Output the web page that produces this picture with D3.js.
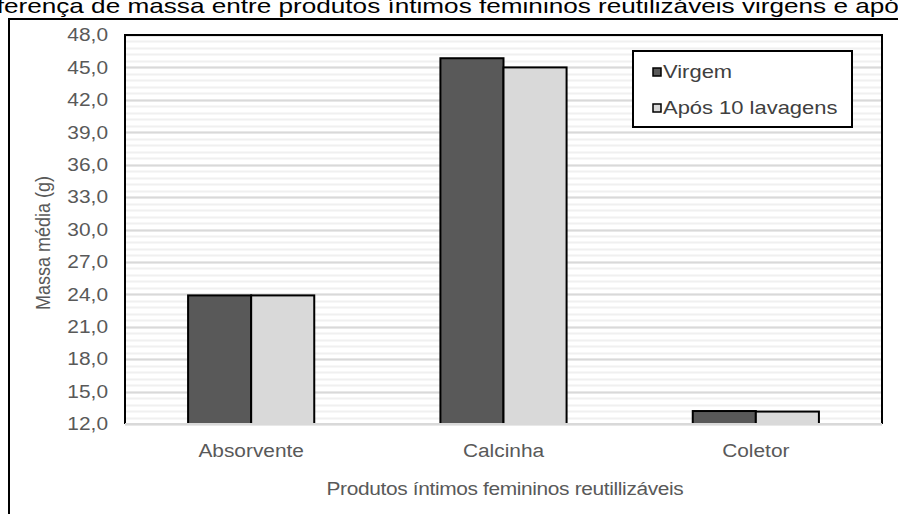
<!DOCTYPE html>
<html>
<head>
<meta charset="utf-8">
<script src="https://cdn.jsdelivr.net/npm/d3@7"></script>
<style>
  body { margin: 0; background: #fff; }
  svg { display: block; font-family: 'Liberation Sans', Arial, sans-serif; }
</style>
</head>
<body>
<svg width="898" height="514"></svg>
<script>
var svg = d3.select('svg')

// data
var categories = ['Absorvente', 'Calcinha', 'Coletor']
var seriesNames = ['Virgem', 'Após 10 lavagens']
var virgem = [23.9, 45.85, 13.2]
var aposLavagens = [23.9, 45.0, 13.15]
var yTicks = [12, 15, 18, 21, 24, 27, 30, 33, 36, 39, 42, 45, 48]

var colors = ['#595959', '#d9d9d9']
var stretch = 1.16 // the original picture is a bit wider than tall

var plot = { left: 125, top: 35, right: 882, bottom: 424 }

// text placed at x,y and stretched sideways
function wideText (sel, x, y, k) {
  return sel.append('g')
      .attr('transform', 'translate(' + x + ',' + y + ') scale(' + (k || stretch) + ',1)')
    .append('text')
}

// outer frame (extends past the window like the original)
svg.append('rect')
  .attr('x', 9).attr('y', 19)
  .attr('width', 1000).attr('height', 600)
  .attr('fill', 'none')
  .attr('stroke', '#000')
  .attr('stroke-width', 2)

wideText(svg, -28, 13, 1.245)
  .attr('font-size', 21)
  .attr('fill', '#000')
  .text('Diferença de massa entre produtos íntimos femininos reutilizáveis virgens e após 10 lavagens')

var y = d3.scaleLinear().domain([12, 48]).range([plot.bottom, plot.top])
var x0 = d3.scaleBand().domain(categories).range([plot.left, plot.right]).paddingInner(0.5).paddingOuter(0.25)
var x1 = d3.scaleBand().domain(seriesNames).range([0, x0.bandwidth()])

// minor grid
var minor = d3.range(12, 48.001, 0.6)
svg.append('g').selectAll('line')
  .data(minor)
  .enter().append('line')
    .attr('x1', plot.left).attr('x2', plot.right)
    .attr('y1', d => Math.round(y(d)) + 0.5)
    .attr('y2', d => Math.round(y(d)) + 0.5)
    .attr('stroke', '#f0f0f0')
    .attr('stroke-width', 2)

// major grid
svg.append('g').selectAll('line')
  .data(yTicks)
  .enter().append('line')
    .attr('x1', plot.left).attr('x2', plot.right)
    .attr('y1', d => Math.round(y(d)) + 0.5)
    .attr('y2', d => Math.round(y(d)) + 0.5)
    .attr('stroke', '#d9d9d9')
    .attr('stroke-width', 2)

// plot border (left, top, right black)
svg.append('path')
  .attr('d', 'M' + plot.left + ',' + plot.bottom + 'V' + plot.top + 'H' + plot.right + 'V' + plot.bottom)
  .attr('fill', 'none')
  .attr('stroke', '#000')
  .attr('stroke-width', 2)

// bars
var rows = categories.map((c, i) => ({ cat: c, vals: [virgem[i], aposLavagens[i]] }))
var groups = svg.append('g').selectAll('g')
  .data(rows)
  .enter().append('g')
    .attr('transform', d => 'translate(' + x0(d.cat) + ',0)')

groups.selectAll('rect')
  .data(d => d.vals.map((v, j) => ({ name: seriesNames[j], v: v, j: j })))
  .enter().append('rect')
    .attr('x', d => x1(d.name))
    .attr('y', d => y(d.v))
    .attr('width', x1.bandwidth())
    .attr('height', d => plot.bottom - y(d.v))
    .attr('fill', d => colors[d.j])
    .attr('stroke', '#000')
    .attr('stroke-width', 2)

// x axis line
svg.append('line')
  .attr('x1', plot.left).attr('x2', plot.right)
  .attr('y1', plot.bottom).attr('y2', plot.bottom)
  .attr('stroke', '#d9d9d9')
  .attr('stroke-width', 2)

// y tick labels
yTicks.forEach(function (d) {
  wideText(svg, 108, y(d))
    .attr('dy', '0.35em')
    .attr('text-anchor', 'end')
    .attr('font-size', 18)
    .attr('fill', '#595959')
    .text(d3.format('.1f')(d).replace('.', ','))
})

// x tick labels
categories.forEach(function (d) {
  wideText(svg, x0(d) + x0.bandwidth() / 2, 457)
    .attr('text-anchor', 'middle')
    .attr('font-size', 18)
    .attr('fill', '#595959')
    .text(d)
})

// axis titles
wideText(svg, 505, 495)
  .attr('text-anchor', 'middle')
  .attr('font-size', 18)
  .attr('letter-spacing', -0.3)
  .attr('fill', '#595959')
  .text('Produtos íntimos femininos reutillizáveis')

svg.append('g')
    .attr('transform', 'translate(50,243) scale(' + stretch + ',1) rotate(-90)')
  .append('text')
    .attr('text-anchor', 'middle')
    .attr('font-size', 18)
    .attr('fill', '#595959')
    .text('Massa média (g)')

// legend
var legend = svg.append('g').attr('transform', 'translate(633,51)')
legend.append('rect')
  .attr('width', 219).attr('height', 76)
  .attr('fill', '#fff')
  .attr('stroke', '#000')
  .attr('stroke-width', 2)

seriesNames.forEach(function (d, i) {
  var cy = 21 + i * 36
  legend.append('rect')
    .attr('x', 20).attr('y', cy - 4)
    .attr('width', 8).attr('height', 8)
    .attr('fill', colors[i])
    .attr('stroke', '#000')
    .attr('stroke-width', 1.5)
  wideText(legend, 30, cy, 1.22)
    .attr('dy', '0.35em')
    .attr('font-size', 18)
    .attr('fill', '#404040')
    .text(d)
})
</script>
</body>
</html>
